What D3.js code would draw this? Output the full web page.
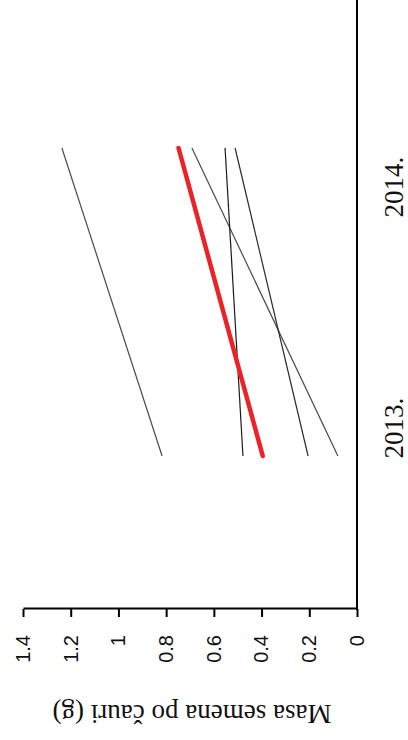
<!DOCTYPE html>
<html>
<head>
<meta charset="utf-8">
<script src="https://cdn.jsdelivr.net/npm/d3@7"></script>
<style>
  html, body { margin: 0; padding: 0; background: #fff; }
  svg { display: block; }
</style>
</head>
<body>
<svg id="chart" width="408" height="740"></svg>
<script>
// Seed mass per cocoon, two seasons
const years = ["2013.", "2014."];
const seriesA = [0.817, 1.237];
const seriesB = [0.080, 0.692];
const seriesC = [0.478, 0.553];
const seriesD = [0.205, 0.511];
const seriesMean = [0.395, 0.748];
const tickValues = [0, 0.2, 0.4, 0.6, 0.8, 1, 1.2, 1.4];
const tickLabels = ["0", "0.2", "0.4", "0.6", "0.8", "1", "1.2", "1.4"];
const yTitle = "Masa semena po čauri (g)";

const thinSeries = [
  { values: seriesA, color: "#4a4a4a" },
  { values: seriesB, color: "#4a4a4a" },
  { values: seriesC, color: "#1a1a1a" },
  { values: seriesD, color: "#2a2a2a" }
];

const W = 740, H = 408; // chart laid out in its own frame, then turned on its side
const svg = d3.select("#chart");
const g = svg.append("g").attr("transform", `translate(0,${W}) rotate(-90)`);

const axisX0 = 131, axisY0 = 357;
const y = d3.scaleLinear().domain([0, 1.4]).range([axisY0, 23]);
const x = d3.scalePoint().domain(years).range([284, 592]);
const xLabel = d3.scalePoint().domain(years).range([312, 553]);

// value axis
const yAxis = g.append("g")
  .attr("transform", `translate(${axisX0},0)`)
  .call(d3.axisLeft(y)
    .tickValues(tickValues)
    .tickFormat((d, i) => tickLabels[i])
    .tickSize(8)
    .tickSizeOuter(0)
    .tickPadding(18));
yAxis.select(".domain").attr("stroke", "#000").attr("stroke-width", 2);
yAxis.selectAll(".tick line").attr("stroke", "#000").attr("stroke-width", 2);
yAxis.selectAll(".tick text")
  .attr("fill", "#111")
  .style("font-family", "'Liberation Sans', Arial, sans-serif")
  .style("font-size", "20px");

// category axis
g.append("line")
  .attr("x1", axisX0 - 1).attr("x2", W + 5)
  .attr("y1", axisY0).attr("y2", axisY0)
  .attr("stroke", "#000").attr("stroke-width", 2);

g.append("g")
  .selectAll("text")
  .data(years)
  .join("text")
  .attr("x", d => xLabel(d))
  .attr("y", axisY0 + 46)
  .attr("text-anchor", "middle")
  .attr("fill", "#111")
  .style("font-family", "'Liberation Serif', 'Times New Roman', serif")
  .style("font-size", "27px")
  .text(d => d);

// axis title
g.append("text")
  .attr("transform", `translate(35,${(y(0) + y(1.4)) / 2 + 2}) rotate(-90)`)
  .attr("text-anchor", "middle")
  .attr("fill", "#111")
  .style("font-family", "'Liberation Serif', 'Times New Roman', serif")
  .style("font-size", "27px")
  .text(yTitle);

const line = d3.line()
  .x((d, i) => x(years[i]))
  .y(d => y(d));

g.append("g")
  .selectAll("path")
  .data(thinSeries)
  .join("path")
  .attr("d", d => line(d.values))
  .attr("fill", "none")
  .attr("stroke", d => d.color)
  .attr("stroke-width", 1.2);

g.append("path")
  .attr("d", line(seriesMean))
  .attr("fill", "none")
  .attr("stroke", "#ec2227")
  .attr("stroke-width", 4.5)
  .attr("stroke-linecap", "round");
</script>
</body>
</html>
